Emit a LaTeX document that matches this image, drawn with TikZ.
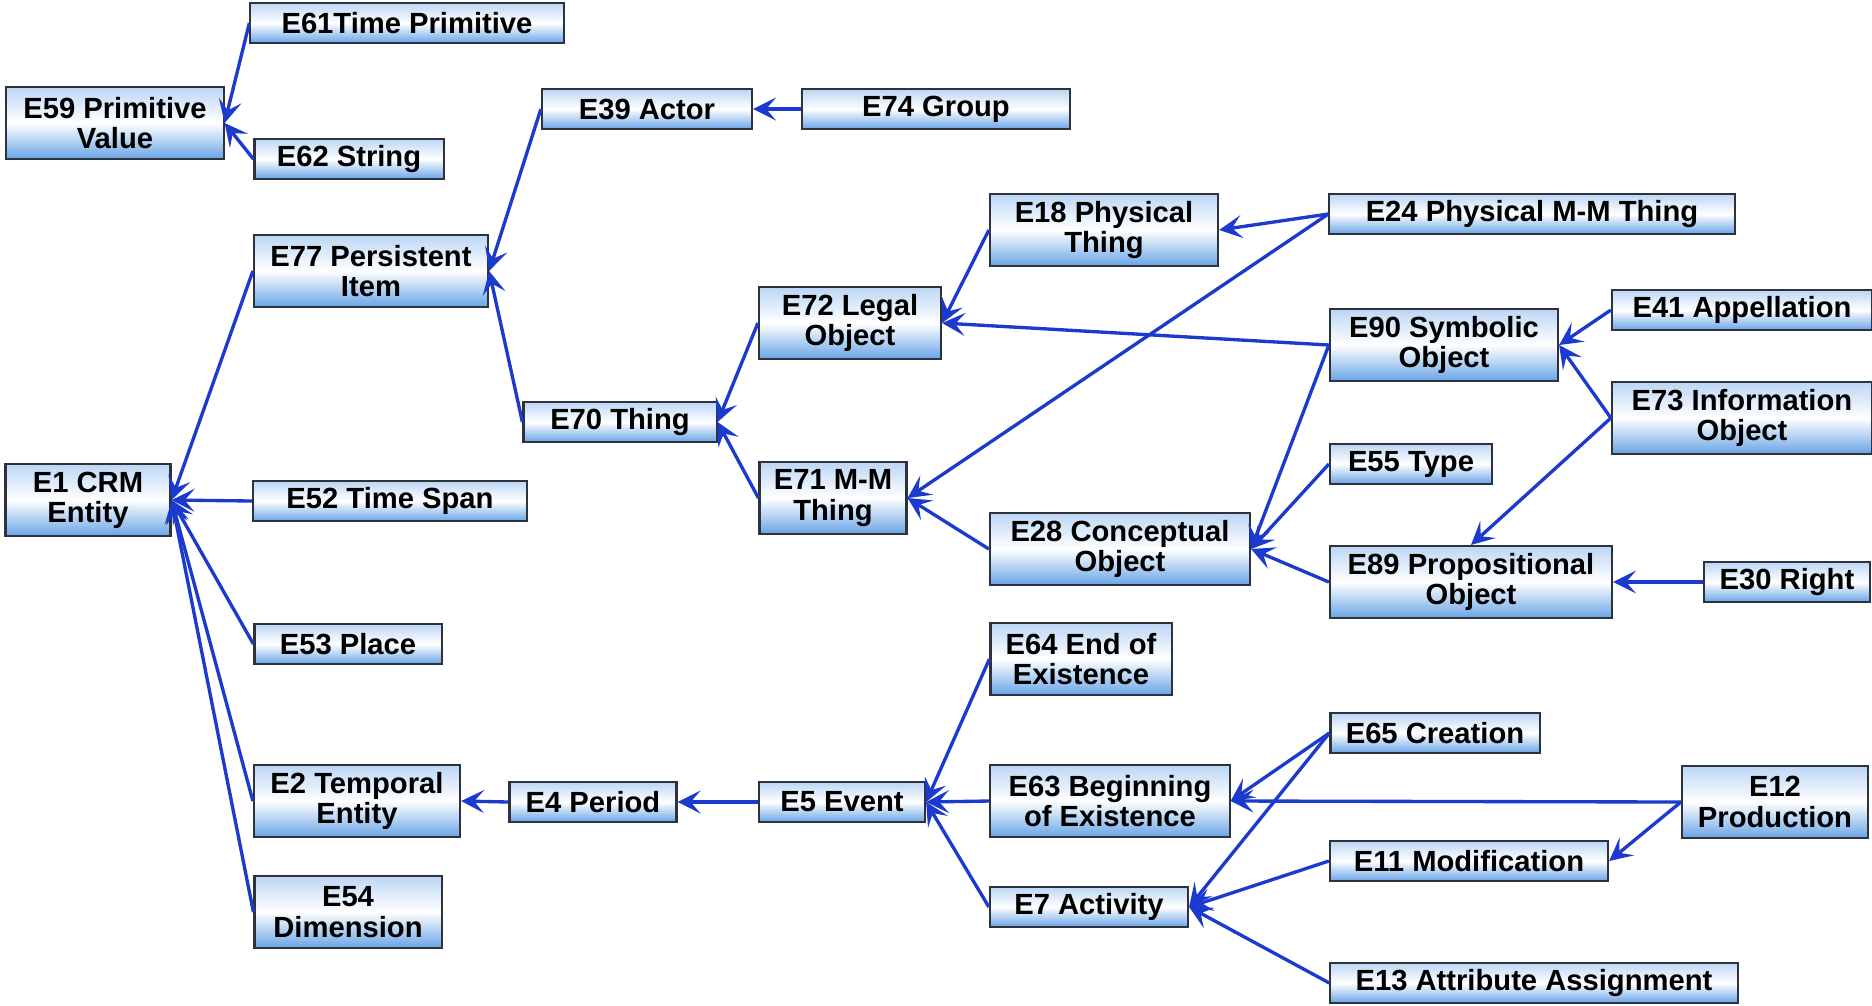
\documentclass[tikz,border=0pt]{standalone}
\usepackage{fontspec}
\setsansfont{Liberation Sans}
\usetikzlibrary{arrows.meta}

\definecolor{linkblue}{RGB}{28,58,205}
\definecolor{boxtop}{RGB}{188,214,245}
\definecolor{boxbottom}{RGB}{104,164,230}
\definecolor{boxline}{RGB}{45,50,60}

\tikzset{
  cls/.style={draw=boxline, line width=0.6pt, top color=boxtop, bottom color=boxbottom,
    middle color=white, inner sep=0pt, align=center, minimum height=0.40cm,
    font=\sffamily\bfseries\fontsize{8.3}{8.6}\selectfont},
  cls2/.style={cls, minimum height=0.72cm},
  isa/.style={draw=linkblue, line width=0.95pt, -{Stealth[length=6.5pt, width=6.5pt, inset=2.8pt]}}
}

\begin{document}
\begin{tikzpicture}[x=0.01cm, y=-0.01cm]
  \useasboundingbox (0,0) rectangle (1872,1005);

  \node[cls, minimum width=3.13cm] (e61) at (407,23) {E61Time Primitive};
  \node[cls2, minimum width=2.17cm] (e59) at (115,123) {E59 Primitive\\Value};
  \node[cls, minimum width=1.89cm] (e62) at (349,159) {E62 String};
  \node[cls, minimum width=2.10cm] (e39) at (647,109) {E39 Actor};
  \node[cls, minimum width=2.68cm] (e74) at (936,109) {E74 Group};
  \node[cls2, minimum width=2.34cm] (e77) at (371,271) {E77 Persistent\\Item};

  \node[cls2, minimum width=2.28cm] (e18) at (1104,230) {E18 Physical\\Thing};
  \node[cls, minimum width=4.05cm] (e24) at (1532,214) {E24 Physical M-M Thing};
  \node[cls2, minimum width=1.82cm] (e72) at (850,323) {E72 Legal\\Object};
  \node[cls2, minimum width=2.28cm] (e90) at (1444,345) {E90 Symbolic\\Object};
  \node[cls, minimum width=2.60cm] (e41) at (1742,310) {E41 Appellation};
  \node[cls2, minimum width=2.60cm] (e73) at (1742,418) {E73 Information\\Object};

  \node[cls, minimum width=1.93cm] (e70) at (620,422) {E70 Thing};
  \node[cls2, minimum width=1.47cm] (e71) at (833,498) {E71 M-M\\Thing};
  \node[cls2, minimum width=1.65cm] (e1) at (88,500) {E1 CRM\\Entity};
  \node[cls, minimum width=2.74cm] (e52) at (390,501) {E52 Time Span};
  \node[cls, minimum width=1.62cm] (e55) at (1411,464) {E55 Type};
  \node[cls2, minimum width=2.60cm] (e28) at (1120,549) {E28 Conceptual\\Object};
  \node[cls2, minimum width=2.82cm] (e89) at (1471,582) {E89 Propositional\\Object};
  \node[cls, minimum width=1.66cm] (e30) at (1787,582) {E30 Right};

  \node[cls, minimum width=1.87cm] (e53) at (348,644) {E53 Place};
  \node[cls2, minimum width=1.81cm] (e64) at (1081,659) {E64 End of\\Existence};
  \node[cls, minimum width=2.09cm] (e65) at (1435,733) {E65 Creation};
  \node[cls2, minimum width=2.06cm] (e2) at (357,801) {E2 Temporal\\Entity};
  \node[cls, minimum width=1.67cm] (e4) at (593,802) {E4 Period};
  \node[cls, minimum width=1.66cm] (e5) at (842,802) {E5 Event};
  \node[cls2, minimum width=2.39cm] (e63) at (1110,801) {E63 Beginning\\of Existence};
  \node[cls2, minimum width=1.86cm] (e12) at (1775,802) {E12\\Production};
  \node[cls, minimum width=2.78cm] (e11) at (1469,861) {E11 Modification};
  \node[cls, minimum width=1.98cm] (e7) at (1089,907) {E7 Activity};
  \node[cls2, minimum width=1.87cm] (e54) at (348,912) {E54\\Dimension};
  \node[cls, minimum width=4.07cm] (e13) at (1534,983) {E13 Attribute Assignment};

  \draw[isa] (e61.west) to (e59.east);
  \draw[isa] (e62.west) to (e59.east);
  \draw[isa] (e74.west) to (e39.east);
  \draw[isa] (e39.west) to (e77.east);
  \draw[isa] (e70.west) to (e77.east);

  \draw[isa] (e77.west) to (e1.east);
  \draw[isa] (e52.west) to (e1.east);
  \draw[isa] (e53.west) to (e1.east);
  \draw[isa] (e2.west) to (e1.east);
  \draw[isa] (e54.west) to (e1.east);

  \draw[isa] (e72.west) to (e70.east);
  \draw[isa] (e71.west) to (e70.east);
  \draw[isa] (e18.west) to (e72.east);
  \draw[isa] (e90.west) to (e72.east);
  \draw[isa] (e24.west) to (e18.east);
  \draw[isa] (e24.west) to (e71.east);
  \draw[isa] (e28.west) to (e71.east);

  \draw[isa] (e90.west) to (e28.east);
  \draw[isa] (e55.west) to (e28.east);
  \draw[isa] (e89.west) to (e28.east);
  \draw[isa] (e41.west) to (e90.east);
  \draw[isa] (e73.west) to (e90.east);
  \draw[isa] (e73.west) to (e89.north);
  \draw[isa] (e30.west) to (e89.east);

  \draw[isa] (e5.west) to (e4.east);
  \draw[isa] (e4.west) to (e2.east);
  \draw[isa] (e64.west) to (e5.east);
  \draw[isa] (e63.west) to (e5.east);
  \draw[isa] (e7.west) to (e5.east);

  \draw[isa] (e65.west) to (e63.east);
  \draw[isa] (e65.west) to (e7.east);
  \draw[isa] (e12.west) to (e63.east);
  \draw[isa] (e12.west) to (e11.east);
  \draw[isa] (e11.west) to (e7.east);
  \draw[isa] (e13.west) to (e7.east);
\end{tikzpicture}
\end{document}
